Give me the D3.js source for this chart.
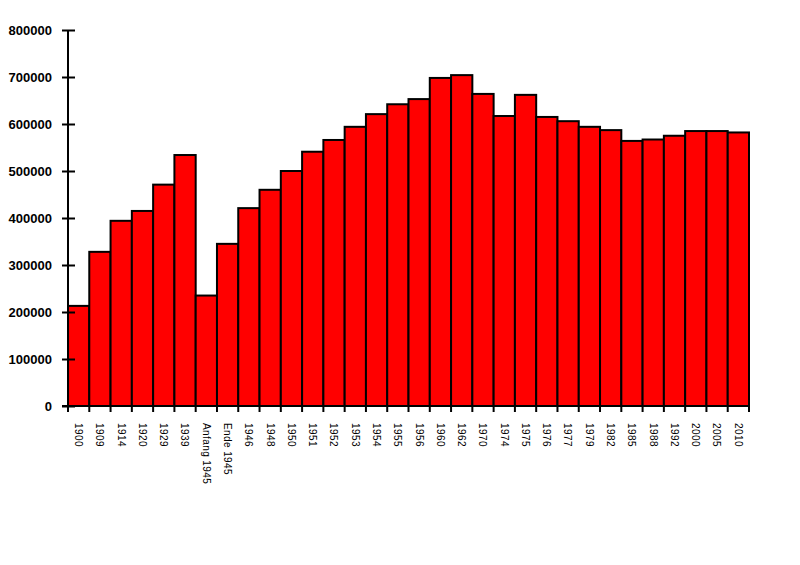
<!DOCTYPE html>
<html><head><meta charset="utf-8">
<script src="https://cdn.jsdelivr.net/npm/d3@7"></script>
<style>body{margin:0;background:#fff}svg{display:block}</style>
</head><body>
<svg id="c" width="800" height="565"></svg>
<script>
const categories = ["1900","1909","1914","1920","1929","1939","Anfang 1945","Ende 1945","1946","1948","1950","1951","1952","1953","1954","1955","1956","1960","1962","1970","1974","1975","1976","1977","1979","1982","1985","1988","1992","2000","2005","2010"];
const values = [213000,328000,394000,415000,471000,534000,235000,345000,421000,460000,500000,541000,566000,594000,621000,642000,653000,698000,704000,664000,617000,662000,615000,606000,594000,587000,564000,567000,575000,585000,585000,582000];
const yTicks = [0,100000,200000,300000,400000,500000,600000,700000,800000];

(function(){
const svg = d3.select("#c");
const mLeft = 68, mRight = 749, mTop = 30, mBottom = 406;
const x = d3.scaleBand().domain(categories).range([mLeft, mRight]).padding(0);
const y = d3.scaleLinear().domain([0, 800000]).range([mBottom, mTop]);

// bars
svg.append("g").selectAll("rect").data(values).join("rect")
  .attr("x", (d,i) => x(categories[i]))
  .attr("y", d => y(d))
  .attr("width", x.bandwidth())
  .attr("height", d => mBottom - y(d))
  .attr("fill", "#ff0000")
  .attr("stroke", "#000")
  .attr("stroke-width", 2);

// y axis
const ya = svg.append("g").attr("transform", `translate(${mLeft},0)`)
  .call(d3.axisLeft(y).tickValues(yTicks).tickFormat(d3.format("d")).tickSize(6).tickPadding(10));
ya.select(".domain").attr("stroke-width", 2).attr("d", `M0,${mTop}V${mBottom}`);
ya.selectAll(".tick line").attr("x1", -6).attr("x2", 7).attr("stroke-width", 2);
ya.selectAll(".tick text").attr("font-family", "Liberation Sans, Arial, sans-serif")
  .attr("font-size", 13).attr("font-weight", "bold").attr("fill", "#000").attr("x", -16);

// x axis line
svg.append("line").attr("x1", mLeft - 6).attr("x2", mRight).attr("y1", mBottom).attr("y2", mBottom)
  .attr("stroke", "#000").attr("stroke-width", 2);
// boundary ticks
const bounds = categories.map(c => x(c)).concat([mRight]);
svg.append("g").selectAll("line").data(bounds).join("line")
  .attr("x1", d => d).attr("x2", d => d).attr("y1", mBottom).attr("y2", mBottom + 6)
  .attr("stroke", "#000").attr("stroke-width", 2);
// category labels rotated
svg.append("g").selectAll("text").data(categories).join("text")
  .attr("transform", d => `translate(${x(d) + x.bandwidth()/2 - 1},${mBottom + 17}) rotate(90)`)
  .attr("dominant-baseline", "middle")
  .attr("font-family", "Liberation Sans, Arial, sans-serif")
  .attr("font-size", 10).attr("letter-spacing", "0.4px").attr("fill", "#000")
  .text(d => d);
})();
</script>
</body></html>
